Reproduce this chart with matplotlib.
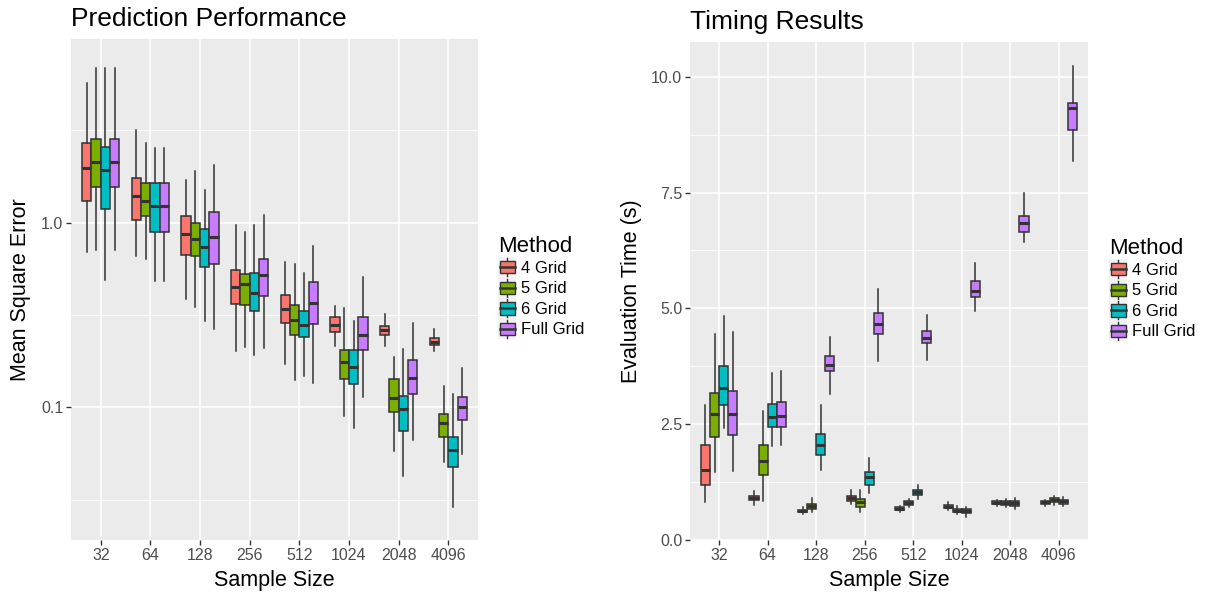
import matplotlib
matplotlib.use("Agg")
import matplotlib.pyplot as plt
from matplotlib.legend_handler import HandlerBase
from matplotlib.patches import Rectangle
from matplotlib.lines import Line2D
from matplotlib.ticker import FixedLocator, NullFormatter

plt.rcParams['font.family'] = ['Liberation Sans', 'DejaVu Sans']

sizes = ['32', '64', '128', '256', '512', '1024', '2048', '4096']
methods = ['4 Grid', '5 Grid', '6 Grid', 'Full Grid']
colors = ['#F8766D', '#7CAE00', '#00BFC4', '#C77CFF']

# (whisker low, q1, median, q3, whisker high) per sample size
mse_4grid = [(0.691, 1.315, 1.98, 2.70, 5.68), (0.663, 1.04, 1.40, 1.746, 3.17),
             (0.385, 0.666, 0.872, 1.087, 1.71), (0.202, 0.363, 0.449, 0.553, 0.972),
             (0.171, 0.287, 0.343, 0.405, 0.613), (0.214, 0.255, 0.281, 0.309, 0.353),
             (0.214, 0.248, 0.262, 0.276, 0.319), (0.201, 0.217, 0.227, 0.238, 0.267)]
mse_5grid = [(0.711, 1.56, 2.13, 2.85, 6.85), (0.636, 1.087, 1.315, 1.646, 2.70),
             (0.350, 0.658, 0.816, 1.0, 1.897), (0.2125, 0.357, 0.468, 0.530, 0.894),
             (0.141, 0.246, 0.299, 0.359, 0.596), (0.0903, 0.1426, 0.176, 0.204, 0.344),
             (0.0581, 0.0945, 0.1126, 0.142, 0.187), (0.0505, 0.0695, 0.0821, 0.0926, 0.1307)]
mse_6grid = [(0.49, 1.18, 1.93, 2.56, 6.90), (0.484, 0.894, 1.236, 1.646, 2.54),
             (0.295, 0.576, 0.742, 0.928, 1.497), (0.1916, 0.332, 0.418, 0.536, 0.972),
             (0.148, 0.2407, 0.279, 0.333, 0.534), (0.0774, 0.134, 0.165, 0.204, 0.294),
             (0.0428, 0.0743, 0.0981, 0.115, 0.2065), (0.0291, 0.0475, 0.0591, 0.0695, 0.1188)]
mse_full = [(0.711, 1.56, 2.13, 2.85, 6.85), (0.484, 0.894, 1.236, 1.646, 2.54),
            (0.265, 0.598, 0.840, 1.147, 2.045), (0.210, 0.403, 0.523, 0.639, 1.10),
            (0.136, 0.283, 0.366, 0.476, 0.748), (0.1136, 0.2055, 0.248, 0.308, 0.506),
            (0.067, 0.119, 0.145, 0.180, 0.2876), (0.056, 0.0856, 0.101, 0.1144, 0.164)]

time_4grid = [(0.82, 1.19, 1.51, 2.04, 2.92), (0.75, 0.864, 0.907, 0.96, 1.05),
              (0.56, 0.598, 0.626, 0.657, 0.706), (0.778, 0.85, 0.907, 0.944, 1.07),
              (0.605, 0.648, 0.678, 0.706, 0.728), (0.648, 0.685, 0.72, 0.756, 0.82),
              (0.743, 0.786, 0.808, 0.836, 0.873), (0.743, 0.778, 0.814, 0.836, 0.864)]
time_5grid = [(1.46, 2.23, 2.71, 3.18, 4.44), (0.85, 1.40, 1.71, 2.04, 2.79),
              (0.605, 0.67, 0.728, 0.778, 0.907), (0.598, 0.72, 0.82, 0.886, 1.09),
              (0.706, 0.75, 0.80, 0.836, 0.894), (0.56, 0.605, 0.635, 0.67, 0.728),
              (0.706, 0.765, 0.808, 0.836, 0.894), (0.765, 0.82, 0.864, 0.90, 0.944)]
time_6grid = [(2.42, 2.91, 3.28, 3.75, 4.83), (2.02, 2.45, 2.66, 2.94, 3.61),
              (1.51, 1.83, 2.05, 2.28, 2.92), (1.02, 1.197, 1.35, 1.46, 1.76),
              (0.886, 0.98, 1.04, 1.09, 1.18), (0.505, 0.583, 0.626, 0.663, 0.72),
              (0.67, 0.743, 0.793, 0.836, 0.907), (0.728, 0.786, 0.836, 0.873, 0.922)]
time_full = [(1.50, 2.26, 2.71, 3.22, 4.48), (2.06, 2.45, 2.68, 2.97, 3.64),
             (3.15, 3.64, 3.78, 3.98, 4.38), (3.86, 4.45, 4.67, 4.89, 5.42),
             (3.88, 4.25, 4.36, 4.52, 4.85), (4.94, 5.25, 5.37, 5.59, 5.97),
             (6.44, 6.65, 6.84, 7.0, 7.50), (8.19, 8.86, 9.32, 9.44, 10.23)]

EDGE = '#333333'
BW = 0.1875


def draw_boxes(ax, series):
    for j, rows in enumerate(series):
        stats = [dict(whislo=r[0], q1=r[1], med=r[2], q3=r[3], whishi=r[4], fliers=[])
                 for r in rows]
        pos = [i + 1 + (j - 1.5) * BW for i in range(len(rows))]
        ax.bxp(stats, positions=pos, widths=BW, patch_artist=True, showcaps=False,
               showfliers=False, manage_ticks=False,
               boxprops=dict(facecolor=colors[j], edgecolor=EDGE, linewidth=1.1),
               medianprops=dict(color=EDGE, linewidth=2.2, solid_capstyle='butt'),
               whiskerprops=dict(color=EDGE, linewidth=1.1))


def style_axes(ax):
    ax.set_facecolor('#EBEBEB')
    for s in ax.spines.values():
        s.set_visible(False)
    ax.set_axisbelow(True)
    ax.grid(which='major', color='white', linewidth=1.1)
    ax.grid(which='minor', axis='y', color='white', linewidth=0.55)
    ax.tick_params(which='major', length=3.5, width=1.0, color=EDGE,
                   labelcolor='#4D4D4D', labelsize=11.5, pad=2)
    ax.tick_params(which='minor', length=0)
    ax.set_xticks(range(1, len(sizes) + 1))
    ax.set_xticklabels(sizes)
    ax.set_xlim(0.4, 8.6)
    ax.set_xlabel('Sample Size', fontsize=15.5, labelpad=5)


class BoxKey(HandlerBase):
    def create_artists(self, legend, orig_handle, xdescent, ydescent, width, height,
                       fontsize, trans):
        x0, y0 = -xdescent, -ydescent
        bg = Rectangle((x0, y0), width, height, facecolor='#F2F2F2', edgecolor='none',
                       transform=trans)
        cx = x0 + width / 2
        vline = Line2D([cx, cx], [y0 + 1, y0 + height - 1], color=EDGE, lw=1.0,
                       transform=trans)
        box = Rectangle((x0 + 1.2, y0 + height * 0.2), width - 2.4, height * 0.6,
                        facecolor=orig_handle.get_facecolor(), edgecolor=EDGE, lw=1.0,
                        transform=trans)
        med = Line2D([x0 + 1.2, x0 + width - 1.2], [y0 + height / 2] * 2, color=EDGE,
                     lw=1.8, transform=trans)
        return [bg, vline, box, med]


def add_legend(fig, x, y):
    handles = [Rectangle((0, 0), 1, 1, facecolor=c) for c in colors]
    leg = fig.legend(handles, methods, loc='upper left', bbox_to_anchor=(x, y),
                     bbox_transform=fig.transFigure, frameon=False, title='Method',
                     fontsize=12, title_fontsize=16, alignment='left',
                     handler_map={Rectangle: BoxKey()}, handlelength=1.1,
                     handleheight=1.52, labelspacing=0.0, handletextpad=0.3,
                     borderpad=0, borderaxespad=0)
    return leg


fig = plt.figure(figsize=(12.12, 5.95), dpi=100)
ax1 = fig.add_axes([71 / 1212, 55 / 595, 407 / 1212, 501 / 595])
ax2 = fig.add_axes([690 / 1212, 55 / 595, 398 / 1212, 498 / 595])

# left: prediction performance (log scale)
style_axes(ax1)
ax1.set_yscale('log')
draw_boxes(ax1, [mse_4grid, mse_5grid, mse_6grid, mse_full])
ax1.set_ylim(10 ** -1.717, 10 ** 0.994)
ax1.yaxis.set_major_locator(FixedLocator([0.1, 1.0]))
ax1.set_yticklabels(['0.1', '1.0'])
ax1.yaxis.set_minor_locator(FixedLocator([10 ** -1.5, 10 ** -0.5, 10 ** 0.5]))
ax1.yaxis.set_minor_formatter(NullFormatter())
ax1.set_ylabel('Mean Square Error', fontsize=15.5, labelpad=7)
ax1.set_title('Prediction Performance', loc='left', fontsize=19, pad=9)

# right: timing results
style_axes(ax2)
draw_boxes(ax2, [time_4grid, time_5grid, time_6grid, time_full])
ax2.set_ylim(0, 10.75)
ax2.set_yticks([0, 2.5, 5.0, 7.5, 10.0])
ax2.set_yticklabels(['0.0', '2.5', '5.0', '7.5', '10.0'])
ax2.yaxis.set_minor_locator(FixedLocator([1.25, 3.75, 6.25, 8.75]))
ax2.set_ylabel('Evaluation Time (s)', fontsize=15.5, labelpad=7)
ax2.set_title('Timing Results', loc='left', fontsize=19, pad=9)

add_legend(fig, 498 / 1212, 1 - 236 / 595)
add_legend(fig, 1109 / 1212, 1 - 238 / 595)

fig.savefig('out.png', dpi=100)
